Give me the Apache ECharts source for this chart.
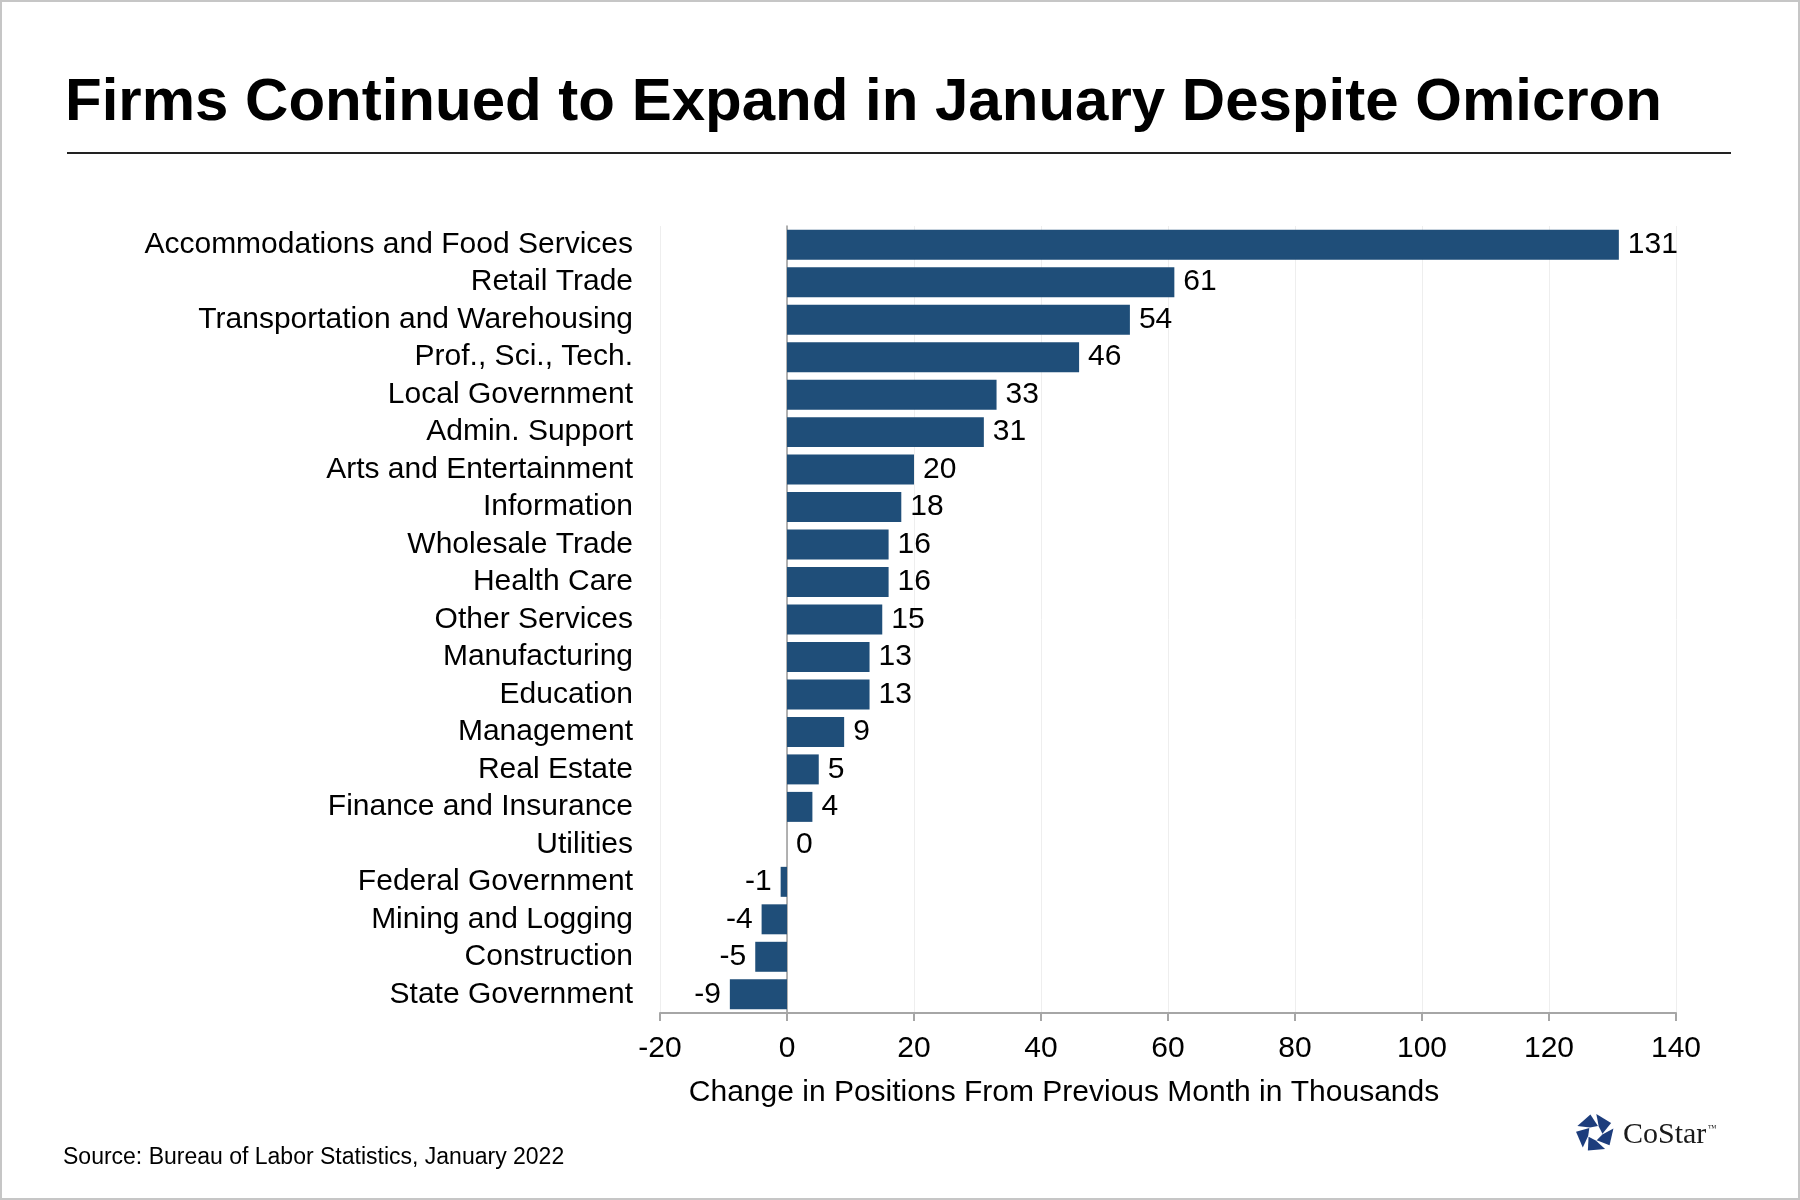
<!DOCTYPE html>
<html>
<head>
<meta charset="utf-8">
<script src="https://cdn.jsdelivr.net/npm/echarts@6/dist/echarts.min.js"></script>
<style>
html,body{margin:0;padding:0;background:#fff;}
#chart{width:1800px;height:1200px;}
</style>
</head>
<body>
<div id="chart"></div>
<script>
const categories = [
  "Accommodations and Food Services",
  "Retail Trade",
  "Transportation and Warehousing",
  "Prof., Sci., Tech.",
  "Local Government",
  "Admin. Support",
  "Arts and Entertainment",
  "Information",
  "Wholesale Trade",
  "Health Care",
  "Other Services",
  "Manufacturing",
  "Education",
  "Management",
  "Real Estate",
  "Finance and Insurance",
  "Utilities",
  "Federal Government",
  "Mining and Logging",
  "Construction",
  "State Government"
];
const values = [131, 61, 54, 46, 33, 31, 20, 18, 16, 16, 15, 13, 13, 9, 5, 4, 0, -1, -4, -5, -9];
const xTicks = { min: -20, max: 140, interval: 20 };
const titleText = "Firms Continued to Expand in January Despite Omicron";
const xAxisName = "Change in Positions From Previous Month in Thousands";
const sourceText = "Source: Bureau of Labor Statistics, January 2022";

const FONT = "'Liberation Sans', Arial, Helvetica, sans-serif";
const chart = echarts.init(document.getElementById('chart'), null, { renderer: 'canvas' });

// CoStar logo pinwheel pieces
function logoPieces(cx, cy) {
  const R = 19, r = 7.5;
  const pieces = [];
  for (let k = 0; k < 5; k++) {
    const a0 = (-90 + 72 * k) * Math.PI / 180;
    const d = Math.PI / 180;
    const pts = [
      [cx + R * Math.cos(a0 + 4 * d), cy + R * Math.sin(a0 + 4 * d)],
      [cx + R * Math.cos(a0 + 58 * d), cy + R * Math.sin(a0 + 58 * d)],
      [cx + r * Math.cos(a0 + 95 * d), cy + r * Math.sin(a0 + 95 * d)],
      [cx + r * Math.cos(a0 + 30 * d), cy + r * Math.sin(a0 + 30 * d)]
    ];
    pieces.push({
      type: 'polygon',
      shape: { points: pts },
      style: { fill: '#1d3d7c' },
      silent: true
    });
  }
  return pieces;
}

const option = {
  backgroundColor: '#ffffff',
  animation: false,
  grid: { left: 660, right: 124, top: 226, bottom: 187, containLabel: false },
  xAxis: {
    type: 'value',
    min: xTicks.min,
    max: xTicks.max,
    interval: xTicks.interval,
    axisLine: { show: true, lineStyle: { color: '#a6a6a6', width: 2 } },
    axisTick: { show: true, length: 8, lineStyle: { color: '#a6a6a6', width: 2 } },
    axisLabel: { fontSize: 30, color: '#000', fontFamily: FONT, margin: 21 },
    splitLine: { show: true, lineStyle: { color: '#eeeeee', width: 1 } }
  },
  yAxis: {
    type: 'category',
    inverse: true,
    data: categories,
    axisLine: { show: true, onZero: true, lineStyle: { color: '#9a9a9a', width: 1.5 } },
    axisTick: { show: false },
    axisLabel: { interval: 0, fontSize: 30, color: '#000', fontFamily: FONT, margin: 27, padding: [5, 0, 0, 0] },
    splitLine: { show: false }
  },
  series: [{
    type: 'bar',
    barCategoryGap: '20%',
    data: values.map(v => ({
      value: v,
      label: { position: v < 0 ? 'left' : 'right' }
    })),
    itemStyle: { color: '#1F4E79' },
    label: {
      show: true,
      distance: 9,
      fontSize: 30,
      color: '#000',
      fontFamily: FONT,
      padding: [5, 0, 0, 0]
    }
  }],
  graphic: [
    {
      type: 'rect',
      shape: { x: 1, y: 1, width: 1798, height: 1198 },
      style: { fill: 'none', stroke: '#c6c6c6', lineWidth: 2 },
      silent: true
    },
    {
      type: 'text',
      x: 65, y: 103,
      style: {
        text: titleText,
        font: "bold 60px " + FONT,
        fill: '#000',
        textAlign: 'left',
        textVerticalAlign: 'middle'
      },
      silent: true
    },
    {
      type: 'line',
      shape: { x1: 67, y1: 153, x2: 1731, y2: 153 },
      style: { stroke: '#222', lineWidth: 2 },
      silent: true
    },
    {
      type: 'text',
      x: 1064, y: 1093,
      style: {
        text: xAxisName,
        font: "30px " + FONT,
        fill: '#000',
        textAlign: 'center',
        textVerticalAlign: 'middle'
      },
      silent: true
    },
    {
      type: 'text',
      x: 63, y: 1158,
      style: {
        text: sourceText,
        font: "23px " + FONT,
        fill: '#000',
        textAlign: 'left',
        textVerticalAlign: 'middle'
      },
      silent: true
    },
    ...logoPieces(1595, 1133),
    {
      type: 'text',
      x: 1623, y: 1135,
      style: {
        text: 'CoStar',
        font: "30px 'Liberation Serif', 'Times New Roman', serif",
        fill: '#1a1a1a',
        textAlign: 'left',
        textVerticalAlign: 'middle'
      },
      silent: true
    },
    {
      type: 'text',
      x: 1708, y: 1129,
      style: {
        text: '™',
        font: "9px 'Liberation Serif', serif",
        fill: '#1a1a1a',
        textAlign: 'left',
        textVerticalAlign: 'middle'
      },
      silent: true
    }
  ]
};
chart.setOption(option);
</script>
</body>
</html>
